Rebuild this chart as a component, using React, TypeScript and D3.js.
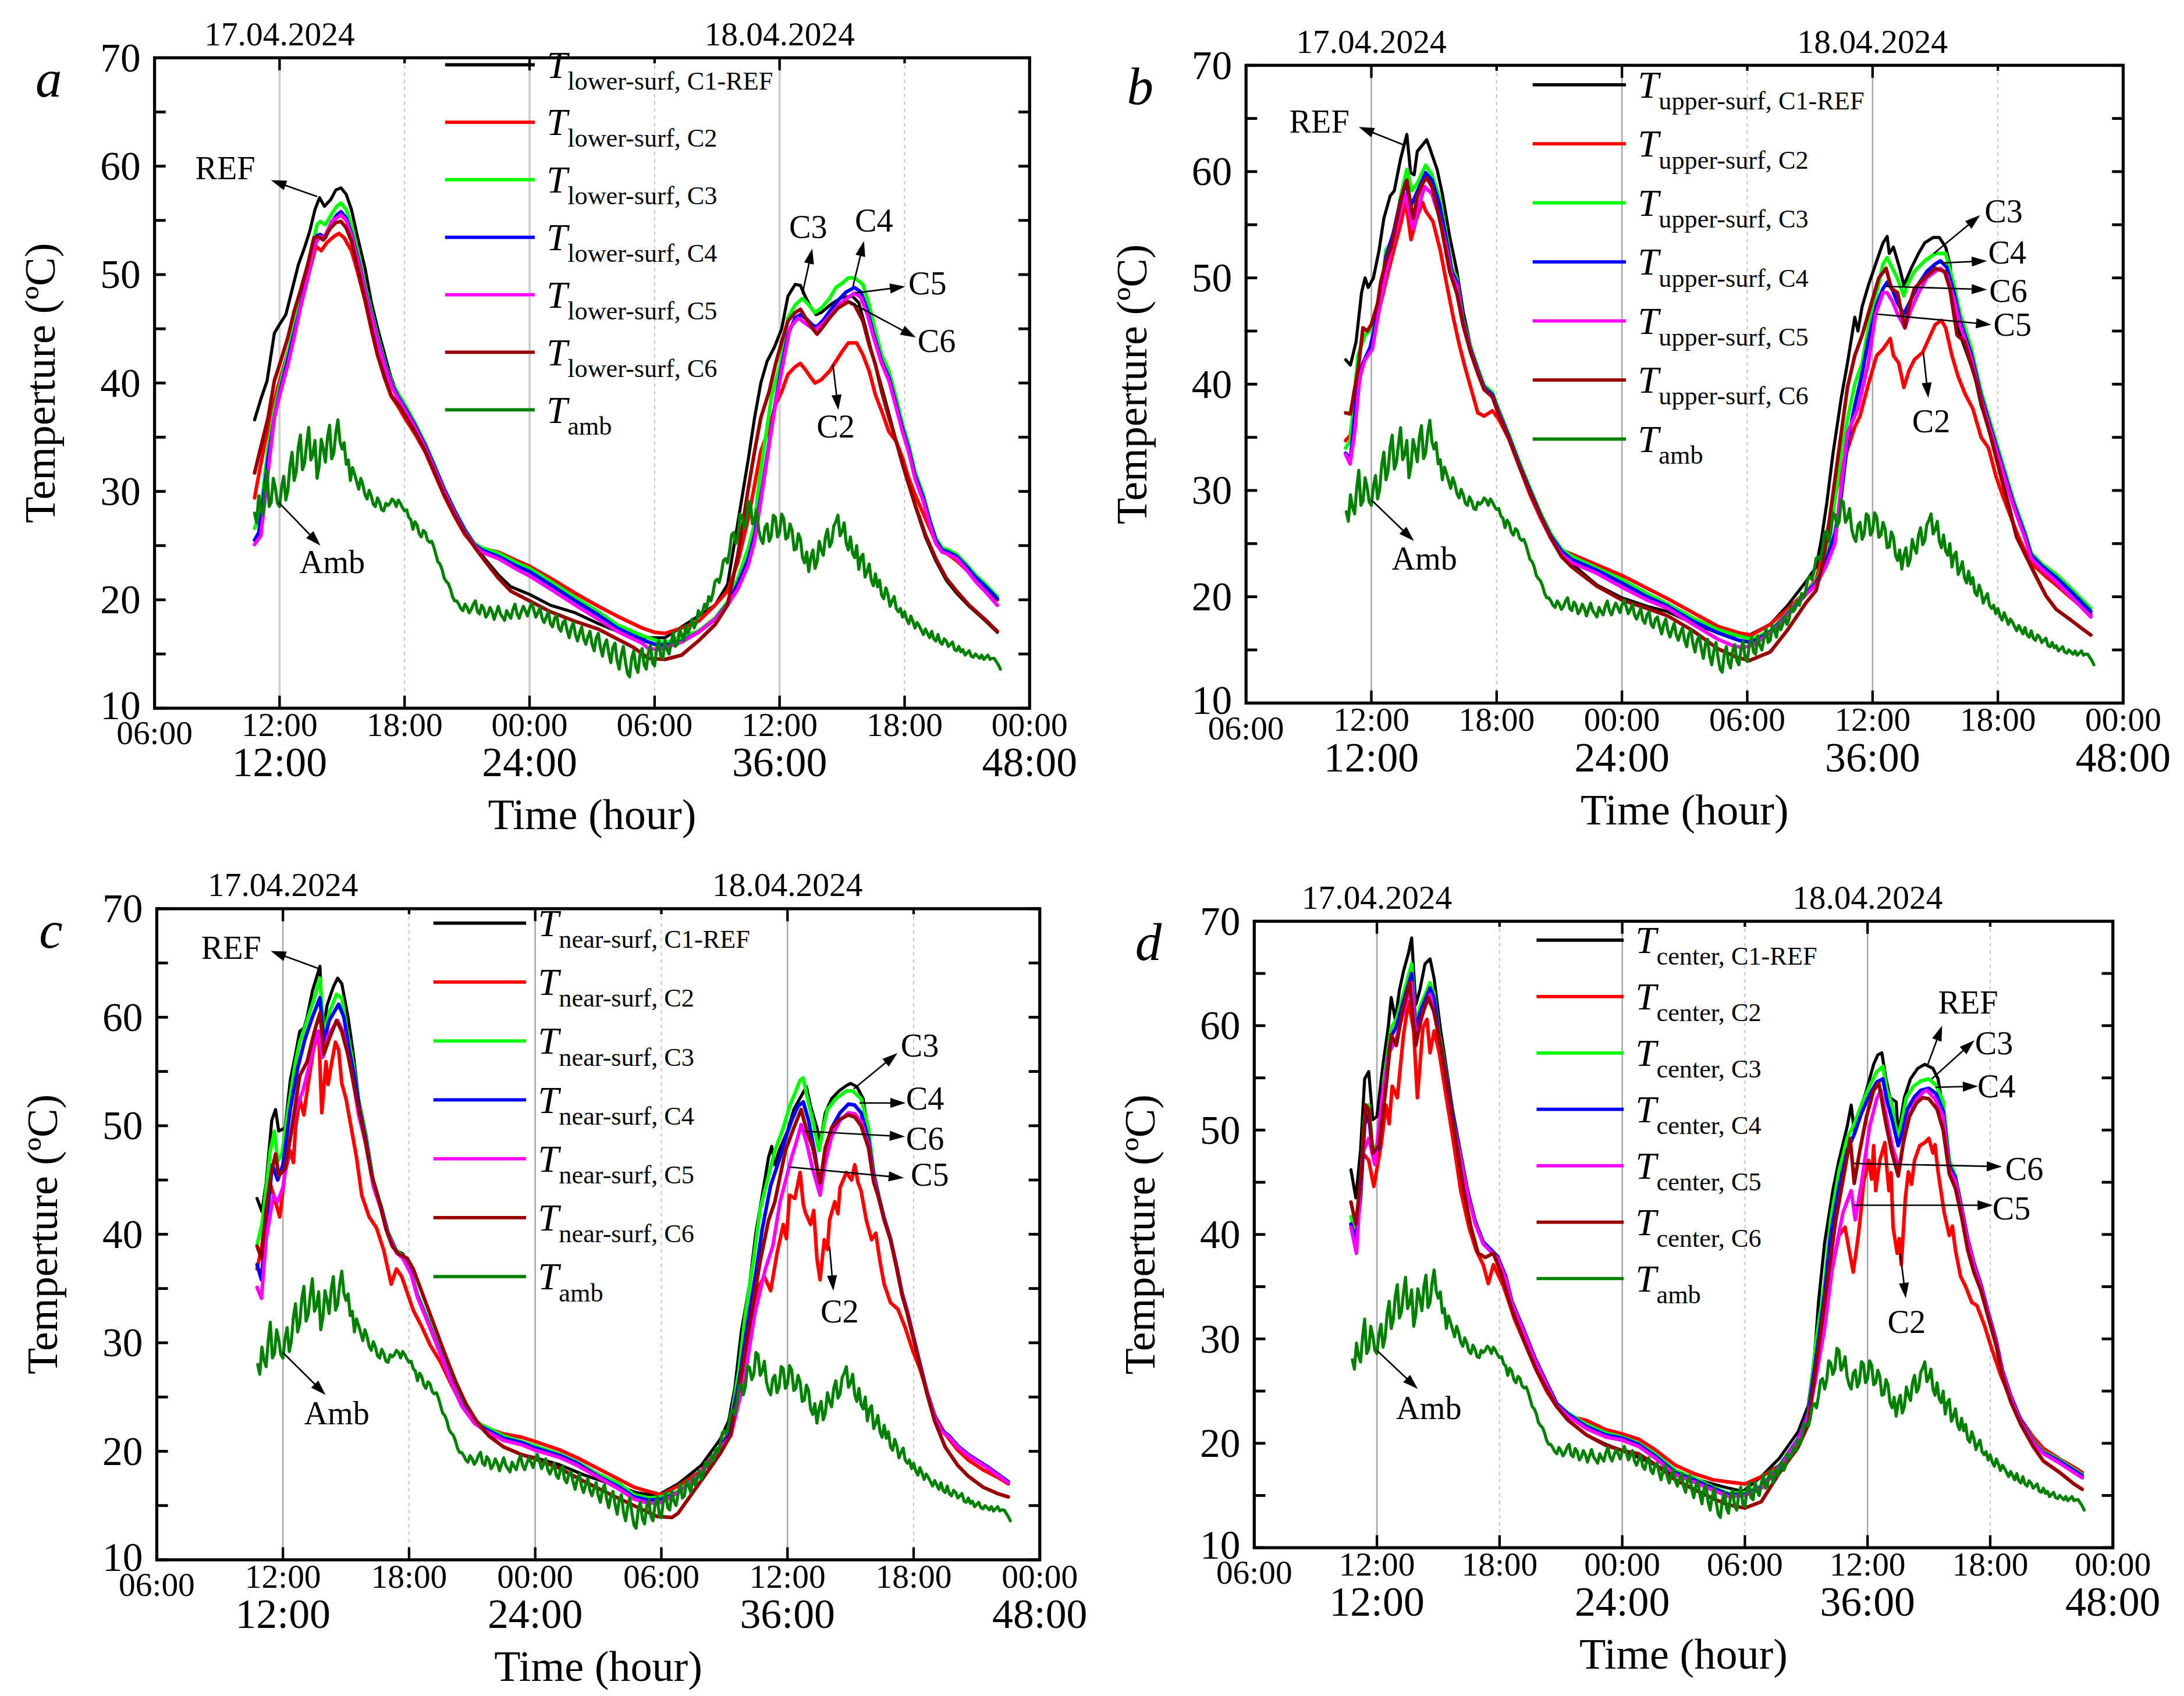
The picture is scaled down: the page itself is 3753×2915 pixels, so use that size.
import React from 'react';
import * as d3 from 'd3';

type Pt = [number, number];

// ---------- axis / tick data ----------
const CLOCK_HOURS = [6, 12, 18, 24, 30, 36, 42, 48];
const CLOCK_LABELS = ['06:00', '12:00', '18:00', '00:00', '06:00', '12:00', '18:00', '00:00'];
const ELAPSED_HOURS = [12, 24, 36, 48];
const ELAPSED_LABELS = ['12:00', '24:00', '36:00', '48:00'];
const Y_TICKS = [10, 20, 30, 40, 50, 60, 70];
const Y_SMALL_TICKS = [15, 25, 35, 45, 55, 65];
const DATE_HOURS = [12, 36];
const DATE_LABELS = ['17.04.2024', '18.04.2024'];
const GRID_SOLID = [12, 24, 36];
const GRID_DASHED = [18, 30, 42];
const SERIES_KEYS = ['C1-REF', 'C2', 'C3', 'C4', 'C5', 'C6'];
const SERIES_COLORS = ['#000000', '#ff0000', '#00ff00', '#0000ff', '#ff00ff', '#990000'];
const AMB_COLOR = '#008000';

// ---------- ambient temperature (shared by all panels), sampled every 0.1 h from 10.8 h ----------
const AMB_START = 10.8;
const AMB_STEP = 0.1;
const AMB_VALUES = [
  28.0, 27.1, 29.6, 28.4, 27.8, 30.2, 31.9, 28.6, 29.0, 31.2,
  30.3, 28.9, 28.6, 30.4, 31.4, 29.2, 30.1, 32.4, 33.6, 31.0,
  31.8, 34.1, 35.2, 32.0, 32.6, 34.4, 35.9, 32.9, 33.4, 34.7,
  31.2, 32.3, 34.8, 33.9, 32.7, 35.0, 36.1, 33.0, 33.5, 35.4,
  36.6, 34.6, 33.9, 34.5, 32.5, 32.9, 31.0, 32.2, 31.6, 30.9,
  30.2, 31.2, 30.6, 29.7, 29.3, 30.1, 29.6, 28.8, 28.6, 29.4,
  29.0, 28.3, 28.2, 28.9, 28.7, 28.9, 29.3, 29.1, 28.6, 29.2,
  28.9, 28.5, 28.2, 28.3, 27.6, 27.4, 26.5, 27.2, 26.9, 26.1,
  25.8, 26.4, 26.2, 25.5, 25.3, 25.4, 24.9, 24.2, 23.5, 23.3,
  22.8, 22.0, 21.7, 21.5, 21.0, 20.3, 19.9, 19.9, 19.6, 19.2,
  19.0, 19.6, 19.3, 18.8, 19.1, 19.6, 19.9, 18.9, 18.7, 19.5,
  19.2, 18.4, 18.7, 19.3, 18.9, 18.2, 18.8, 19.4, 18.7, 18.4,
  18.1, 19.0, 18.6, 18.3, 19.1, 19.6, 18.7, 18.3, 18.9, 19.4,
  19.0, 18.5, 19.2, 19.7, 19.1, 18.4, 18.8, 19.3, 18.3, 17.9,
  18.4, 18.9, 17.8, 17.5, 18.3, 18.6, 17.4, 17.1, 17.9, 18.1,
  17.2, 16.5, 17.4, 17.9, 16.8, 16.2, 16.9, 17.5, 16.4, 15.9,
  16.6, 17.1, 15.9, 15.3, 16.5, 16.9, 15.6, 14.8, 15.9, 16.3,
  15.1, 14.2, 15.6, 16.0, 14.4, 13.6, 14.9, 15.7, 14.3, 13.2,
  12.9, 14.6, 15.3, 13.8, 13.3, 14.9, 15.5, 14.0, 13.6, 15.1,
  15.8, 14.2, 13.9, 15.5, 16.2, 14.8, 14.6, 16.3, 15.4, 15.0,
  16.1, 17.0, 15.7, 15.9, 17.3, 16.8, 16.2, 17.6, 16.9, 17.4,
  18.2, 17.4, 17.9, 19.0, 18.6, 18.9, 19.6, 19.2, 20.3, 19.9,
  20.6, 21.7, 21.9, 21.6, 22.4, 23.6, 23.8, 23.4, 24.5, 26.0,
  26.2, 25.2, 26.0, 27.9, 27.7, 26.6, 27.1, 29.1, 28.9, 27.0,
  27.4, 28.3, 26.4, 25.6, 25.2, 26.7, 27.0, 25.4, 25.9, 27.8,
  27.6, 25.8, 26.2, 27.9, 27.5, 25.6, 25.8, 27.0, 26.4, 24.6,
  24.7, 26.1, 25.6, 23.9, 23.4, 24.4, 22.6, 23.9, 24.6, 22.9,
  23.5, 25.4, 24.6, 24.1, 25.8, 26.5, 24.9, 25.3, 26.8, 27.2,
  27.8, 25.9, 26.3, 27.1, 25.2, 24.6, 25.8, 24.3, 23.9, 25.0,
  22.8, 23.9, 24.2, 22.1, 22.6, 23.3, 21.8, 21.3, 22.4, 21.2,
  21.8, 20.4, 20.1, 21.1, 20.5, 19.4, 19.9, 20.3, 19.2, 18.9,
  19.2, 18.4, 18.9, 18.2, 17.8, 18.5, 18.0, 17.4, 17.9, 17.6,
  17.2, 16.8, 17.3, 16.9, 16.5, 17.1, 16.4, 16.2, 16.8, 16.1,
  15.9, 16.4, 16.2, 15.7, 15.9, 16.1, 15.4, 15.3, 15.7, 15.2,
  15.4, 14.9, 15.1, 15.3, 14.8, 14.7, 15.0, 14.8, 14.6, 14.9,
  14.5, 14.7, 14.9, 14.5, 14.6, 14.6, 14.3, 14.0, 13.6,
];

// ---------- panel a : lower surface ----------
const A_C1: Pt[] = [[10.8,36.6],[11.1,38.5],[11.4,40.2],[11.75,44.6],[12.0,45.4],[12.3,46.3],[12.55,48.2],[12.9,50.9],[13.2,52.5],[13.45,54.0],[13.7,56.0],[13.92,57.1],[14.15,56.3],[14.45,56.9],[14.7,57.8],[14.95,58.0],[15.2,57.4],[15.45,56.0],[15.75,53.4],[16.1,50.6],[16.4,47.5],[16.7,45.1],[17.05,42.6],[17.35,40.5],[17.7,38.8],[18.0,37.5],[18.5,35.8],[19.0,34.0],[19.45,31.8],[19.9,29.8],[20.4,28.0],[20.9,26.3],[21.35,25.1],[21.85,23.8],[22.5,22.3],[23.1,21.2],[24.0,20.5],[25.0,19.5],[26.2,18.8],[27.3,17.8],[28.2,17.1],[29.4,16.5],[30.5,16.5],[31.3,17.5],[32.1,18.5],[32.9,19.5],[33.5,21.4],[33.9,26.0],[34.2,29.5],[34.5,33.0],[34.8,36.8],[35.1,40.0],[35.4,42.0],[35.75,43.3],[36.1,45.0],[36.4,48.0],[36.75,49.1],[37.0,49.0],[37.25,47.9],[37.5,47.0],[37.75,46.3],[38.0,46.5],[38.5,47.3],[39.0,47.9],[39.5,48.0],[39.8,47.4],[40.1,45.3],[40.4,43.0],[40.8,40.3],[41.2,37.5],[41.6,34.6],[42.0,32.0],[42.5,28.7],[43.0,25.8],[43.5,23.6],[44.0,21.8],[44.5,20.6],[45.1,19.4],[45.8,18.2],[46.45,17.0]];
const A_C2: Pt[] = [[10.8,29.4],[11.0,31.5],[11.3,34.5],[11.6,37.0],[11.9,39.5],[12.2,41.5],[12.5,43.5],[12.85,46.0],[13.2,48.5],[13.5,50.8],[13.75,52.6],[14.0,52.2],[14.25,52.9],[14.6,53.5],[14.85,53.8],[15.1,53.4],[15.45,52.2],[15.75,50.2],[16.1,47.6],[16.4,45.0],[16.7,42.6],[17.05,40.4],[17.35,38.8],[17.7,37.8],[18.0,36.8],[18.5,35.3],[19.0,33.6],[19.45,31.6],[19.9,29.6],[20.4,27.7],[20.9,26.0],[21.35,25.0],[21.8,24.7],[22.5,24.4],[23.4,23.6],[24.0,23.1],[25.0,22.0],[26.2,20.6],[27.3,19.4],[28.2,18.5],[29.4,17.4],[30.0,17.0],[30.5,16.9],[31.3,17.4],[32.1,18.0],[32.9,19.5],[33.5,20.8],[34.0,23.5],[34.5,27.5],[34.8,30.6],[35.1,33.7],[35.5,35.8],[35.8,38.0],[36.1,39.2],[36.4,40.8],[36.75,41.5],[37.0,41.8],[37.25,41.2],[37.5,40.5],[37.7,40.0],[38.0,40.3],[38.4,41.1],[38.7,42.0],[39.0,42.9],[39.3,43.7],[39.7,43.7],[40.0,42.6],[40.3,41.1],[40.6,38.9],[40.9,37.4],[41.25,35.5],[41.6,34.6],[41.9,33.1],[42.2,31.2],[42.5,29.7],[43.0,27.5],[43.5,25.3],[44.0,24.3],[44.5,23.6],[45.0,22.7],[45.5,21.8],[46.0,20.9],[46.45,20.0]];
const A_C3: Pt[] = [[10.8,26.6],[11.0,27.5],[11.2,30.0],[11.45,34.0],[11.75,37.5],[12.05,40.0],[12.35,42.3],[12.65,44.8],[12.95,47.3],[13.25,49.8],[13.55,52.5],[13.8,54.6],[13.95,54.9],[14.2,54.6],[14.5,55.6],[14.75,56.3],[14.95,56.6],[15.2,56.0],[15.45,54.6],[15.8,51.8],[16.1,49.0],[16.45,46.3],[16.75,44.0],[17.1,41.6],[17.4,40.0],[17.7,39.0],[18.05,37.9],[18.5,36.3],[19.0,34.4],[19.45,32.4],[19.9,30.3],[20.4,28.3],[20.9,26.5],[21.35,25.2],[21.7,24.8],[22.5,24.3],[23.4,23.4],[24.0,22.9],[25.0,21.7],[26.2,20.2],[27.3,18.9],[28.2,17.7],[29.4,16.7],[30.0,16.3],[30.5,16.0],[31.3,16.6],[32.1,17.1],[32.9,18.3],[33.5,19.8],[34.0,22.0],[34.5,24.8],[34.8,27.0],[35.0,30.6],[35.3,34.6],[35.6,38.6],[36.1,42.3],[36.4,46.0],[36.75,47.2],[37.1,47.8],[37.4,47.2],[37.7,46.5],[38.0,46.9],[38.4,47.8],[38.7,48.8],[39.0,49.2],[39.3,49.7],[39.6,49.7],[40.0,49.1],[40.3,47.2],[40.6,44.8],[40.9,42.6],[41.25,41.1],[41.6,38.6],[41.9,36.2],[42.2,34.3],[42.5,31.8],[42.9,29.7],[43.2,27.5],[43.5,25.7],[43.8,24.8],[44.1,24.6],[44.5,24.2],[45.0,23.2],[45.4,22.3],[45.9,21.4],[46.45,20.3]];
const A_C4: Pt[] = [[10.8,25.5],[11.0,26.2],[11.2,29.0],[11.45,33.0],[11.75,36.8],[12.05,39.5],[12.35,41.8],[12.65,44.2],[12.95,46.6],[13.25,49.2],[13.55,51.8],[13.8,53.6],[13.95,53.7],[14.2,53.4],[14.5,54.8],[14.75,55.5],[14.95,55.8],[15.2,55.2],[15.45,53.8],[15.8,51.2],[16.1,48.6],[16.45,46.0],[16.75,43.7],[17.1,41.4],[17.4,39.8],[17.7,38.7],[18.05,37.6],[18.5,36.1],[19.0,34.2],[19.45,32.2],[19.9,30.2],[20.4,28.2],[20.9,26.4],[21.35,25.1],[21.7,24.6],[22.5,24.0],[23.4,23.1],[24.0,22.6],[25.0,21.4],[26.2,19.9],[27.3,18.6],[28.2,17.4],[29.4,16.3],[30.0,15.9],[30.5,15.8],[31.3,16.2],[32.1,17.0],[32.9,18.2],[33.5,19.6],[34.0,21.5],[34.5,23.8],[34.8,26.0],[35.1,29.5],[35.5,34.5],[35.8,38.2],[36.1,41.5],[36.4,44.5],[36.75,46.0],[37.0,46.3],[37.3,45.9],[37.6,45.3],[37.8,45.2],[38.1,45.8],[38.4,46.6],[38.8,47.6],[39.2,48.4],[39.6,48.8],[39.9,48.4],[40.2,46.8],[40.5,44.6],[40.9,42.0],[41.25,40.5],[41.6,38.0],[41.9,35.8],[42.2,33.9],[42.5,31.5],[42.9,29.4],[43.2,27.3],[43.5,25.5],[43.8,24.6],[44.1,24.4],[44.5,24.0],[45.0,23.0],[45.4,22.1],[45.9,21.2],[46.45,20.1]];
const A_C5: Pt[] = [[10.8,25.1],[11.1,25.9],[11.45,31.8],[11.75,36.8],[12.05,39.2],[12.4,41.7],[12.7,44.2],[13.0,46.9],[13.35,49.7],[13.65,52.5],[13.9,53.5],[14.15,53.4],[14.5,54.9],[14.95,55.5],[15.2,55.0],[15.45,53.6],[15.8,51.0],[16.1,48.4],[16.45,45.8],[16.75,43.5],[17.1,41.2],[17.4,39.6],[17.7,38.5],[18.05,37.4],[18.5,35.9],[19.0,34.0],[19.45,32.0],[19.9,30.0],[20.4,28.0],[20.9,26.2],[21.35,25.0],[21.7,24.4],[22.5,23.8],[23.4,22.8],[24.0,22.2],[25.0,21.0],[26.2,19.5],[27.3,18.2],[28.2,17.1],[29.4,16.0],[29.7,15.5],[30.2,15.4],[30.7,15.7],[31.3,16.1],[32.1,17.0],[32.9,18.2],[33.5,19.5],[34.0,21.0],[34.5,23.2],[34.8,25.4],[35.1,29.1],[35.5,34.3],[35.8,38.0],[36.1,41.1],[36.5,45.1],[36.9,46.0],[37.3,45.4],[37.7,44.9],[38.1,45.5],[38.5,46.4],[38.9,47.3],[39.3,47.9],[39.6,48.3],[39.9,47.9],[40.2,46.4],[40.5,44.3],[40.9,41.8],[41.25,40.2],[41.6,37.7],[41.9,35.5],[42.2,33.6],[42.5,31.2],[42.9,29.1],[43.2,27.0],[43.5,25.2],[43.8,24.4],[44.1,24.2],[44.5,23.8],[45.0,22.7],[45.4,21.7],[45.9,20.7],[46.45,19.5]];
const A_C6: Pt[] = [[10.8,31.7],[11.05,33.7],[11.45,36.8],[11.75,40.2],[12.05,42.0],[12.4,44.2],[12.7,46.6],[13.0,48.5],[13.35,50.9],[13.65,53.4],[13.85,53.5],[14.1,53.2],[14.45,54.3],[14.7,54.8],[14.95,54.9],[15.2,54.3],[15.45,53.1],[15.75,50.6],[16.1,47.8],[16.4,45.1],[16.7,42.6],[17.05,40.5],[17.35,38.9],[17.7,38.0],[18.0,37.1],[18.5,35.5],[19.0,33.7],[19.45,31.7],[19.9,29.7],[20.4,27.8],[20.9,26.1],[21.35,24.9],[21.85,23.6],[22.5,22.0],[23.1,20.8],[24.0,19.9],[25.0,18.9],[26.2,18.0],[27.3,17.3],[28.2,16.4],[29.0,15.6],[29.7,14.6],[30.5,14.5],[31.3,14.9],[32.1,16.2],[32.9,17.7],[33.5,19.5],[34.0,24.2],[34.5,30.3],[34.8,33.7],[35.1,36.8],[35.5,39.2],[35.8,41.7],[36.1,43.8],[36.4,45.7],[36.75,46.5],[37.0,46.8],[37.25,46.0],[37.55,45.1],[37.8,44.5],[38.05,45.1],[38.4,46.0],[38.8,46.9],[39.3,47.5],[39.6,47.2],[40.0,45.7],[40.3,43.5],[40.6,41.7],[40.9,39.2],[41.25,36.8],[41.6,34.6],[41.9,32.5],[42.2,30.6],[42.5,28.8],[43.0,26.0],[43.5,23.8],[44.0,22.0],[44.5,20.8],[45.1,19.5],[45.8,18.3],[46.45,17.1]];

// ---------- panel b : upper surface ----------
const B_C1: Pt[] = [[10.77,42.3],[11.0,41.8],[11.27,44.0],[11.53,48.6],[11.7,50.0],[11.85,49.1],[12.1,50.0],[12.37,52.6],[12.6,55.6],[12.9,57.7],[13.1,58.2],[13.4,61.2],[13.7,63.5],[13.88,59.9],[14.05,59.7],[14.2,61.9],[14.45,62.5],[14.65,63.0],[14.8,62.2],[15.15,60.2],[15.4,57.9],[15.75,53.9],[16.1,50.6],[16.4,46.8],[16.75,43.6],[17.1,41.5],[17.4,39.9],[17.8,39.1],[18.1,37.5],[18.6,35.2],[19.1,32.6],[19.6,30.2],[20.1,27.9],[20.6,25.8],[21.1,24.2],[21.6,23.1],[22.8,21.1],[24.0,19.9],[25.2,19.1],[26.2,18.6],[27.4,17.5],[28.6,16.6],[29.6,16.3],[30.0,16.3],[31.1,17.4],[31.9,19.1],[32.8,21.4],[33.3,22.8],[33.55,25.4],[33.8,28.7],[34.1,33.4],[34.5,38.7],[34.8,42.0],[35.15,46.3],[35.3,45.0],[35.5,47.3],[35.8,49.3],[36.2,51.6],[36.5,53.3],[36.7,53.9],[36.8,52.3],[37.0,52.9],[37.3,50.9],[37.5,49.3],[37.85,50.9],[38.2,52.3],[38.5,53.3],[38.9,53.8],[39.2,53.8],[39.5,52.9],[39.7,51.3],[39.9,48.0],[40.2,44.6],[40.55,42.7],[40.9,40.7],[41.2,38.0],[41.6,35.7],[41.9,33.4],[42.25,30.7],[42.6,28.1],[42.9,25.7],[43.3,24.1],[43.8,22.1],[44.3,20.1],[44.8,18.8],[45.5,17.8],[46.1,16.9],[46.45,16.4]];
const B_C2: Pt[] = [[10.77,34.7],[11.0,35.2],[11.3,40.0],[11.6,42.0],[11.9,43.0],[12.2,45.5],[12.5,48.0],[12.8,50.5],[13.1,52.8],[13.4,55.0],[13.65,57.2],[13.9,53.6],[14.15,55.5],[14.45,57.1],[14.6,56.3],[14.95,55.3],[15.3,52.6],[15.6,49.5],[15.9,46.5],[16.2,43.8],[16.5,41.5],[16.8,39.4],[17.1,37.3],[17.4,37.0],[17.8,37.5],[18.1,36.7],[18.6,34.8],[19.1,32.2],[19.6,29.6],[20.1,27.4],[20.6,25.5],[21.1,24.4],[21.6,24.0],[22.8,23.0],[24.0,22.0],[25.2,20.8],[26.2,19.8],[27.4,18.5],[28.6,17.2],[29.6,16.6],[30.2,16.4],[31.1,17.4],[31.9,18.8],[32.8,20.4],[33.3,21.6],[33.6,24.0],[34.0,27.7],[34.5,32.0],[35.15,36.0],[35.4,37.0],[35.8,40.0],[36.2,42.7],[36.5,43.3],[36.85,44.3],[37.0,42.7],[37.25,42.0],[37.5,39.7],[37.75,41.3],[38.0,42.3],[38.4,43.0],[38.7,44.3],[39.0,45.6],[39.3,46.0],[39.5,45.3],[39.8,42.7],[40.1,40.7],[40.45,39.0],[40.8,37.7],[41.2,35.0],[41.55,34.0],[41.9,31.4],[42.25,29.4],[42.6,27.6],[43.0,25.6],[43.4,23.9],[43.8,22.8],[44.3,21.9],[44.8,21.1],[45.5,19.9],[46.1,18.9],[46.45,18.3]];
const B_C3: Pt[] = [[10.77,34.0],[11.0,34.7],[11.36,42.7],[11.7,44.6],[12.05,45.3],[12.4,47.3],[12.7,52.6],[13.05,53.6],[13.4,57.6],[13.7,60.2],[13.95,58.2],[14.2,58.9],[14.6,60.6],[14.9,59.7],[15.25,57.6],[15.55,54.5],[15.85,51.0],[16.1,49.9],[16.4,46.0],[16.75,43.5],[17.1,41.5],[17.4,39.9],[17.8,39.2],[18.1,37.6],[18.6,35.2],[19.1,32.6],[19.6,30.2],[20.1,27.9],[20.6,25.9],[21.1,24.5],[21.6,23.8],[22.8,22.7],[24.0,21.6],[25.2,20.3],[26.2,19.3],[27.4,18.0],[28.6,16.9],[29.6,16.3],[30.2,16.0],[31.1,16.8],[31.9,18.4],[32.8,20.4],[33.3,21.4],[33.8,24.0],[34.1,27.7],[34.5,33.4],[34.8,36.7],[35.15,40.0],[35.5,42.0],[35.8,45.3],[36.2,48.6],[36.5,51.3],[36.7,51.9],[36.95,50.9],[37.2,49.9],[37.5,48.3],[37.65,49.3],[38.0,50.6],[38.5,51.6],[39.0,52.3],[39.5,52.3],[39.9,49.3],[40.2,46.6],[40.7,43.6],[41.2,39.3],[41.7,36.0],[42.25,32.4],[42.75,29.1],[43.3,26.1],[43.6,24.1],[44.1,23.1],[44.8,22.1],[45.5,20.8],[46.45,18.9]];
const B_C4: Pt[] = [[10.77,33.5],[11.0,33.0],[11.3,39.0],[11.6,42.0],[11.95,43.5],[12.35,47.0],[12.7,52.0],[13.05,54.2],[13.4,57.3],[13.65,59.0],[13.9,56.8],[14.15,57.9],[14.6,59.9],[14.9,59.2],[15.25,57.0],[15.55,54.0],[15.85,50.6],[16.1,49.6],[16.4,45.8],[16.75,43.3],[17.1,41.3],[17.4,39.7],[17.8,39.0],[18.1,37.4],[18.6,35.0],[19.1,32.4],[19.6,30.0],[20.1,27.7],[20.6,25.7],[21.1,24.3],[21.6,23.5],[22.8,22.5],[24.0,21.3],[25.2,20.0],[26.2,19.1],[27.4,17.7],[28.6,16.6],[29.6,15.9],[30.2,15.7],[31.1,16.7],[31.9,18.3],[32.8,20.3],[33.3,21.3],[33.8,23.5],[34.2,26.0],[34.5,29.5],[34.8,34.5],[35.15,38.0],[35.5,41.0],[35.8,44.2],[36.2,47.5],[36.5,49.0],[36.7,49.6],[36.95,48.9],[37.2,47.6],[37.5,46.6],[37.8,47.8],[38.2,49.4],[38.6,50.6],[39.0,51.3],[39.25,51.6],[39.55,51.0],[39.9,48.6],[40.2,45.9],[40.7,43.0],[41.2,38.9],[41.7,35.6],[42.25,32.0],[42.75,28.8],[43.3,25.8],[43.6,23.9],[44.1,22.9],[44.8,21.8],[45.5,20.5],[46.45,18.6]];
const B_C5: Pt[] = [[10.77,33.4],[10.98,32.5],[11.2,35.4],[11.45,40.7],[11.7,42.3],[12.05,43.3],[12.4,47.3],[12.9,52.3],[13.2,54.6],[13.6,57.9],[13.85,55.9],[14.0,54.6],[14.3,56.9],[14.55,58.6],[14.9,57.9],[15.25,55.8],[15.55,53.3],[15.85,50.2],[16.1,49.3],[16.4,45.6],[16.75,43.1],[17.1,41.1],[17.4,39.5],[17.8,38.8],[18.1,37.2],[18.6,34.8],[19.1,32.2],[19.6,29.8],[20.1,27.5],[20.6,25.5],[21.1,24.0],[21.6,23.2],[22.8,22.2],[24.0,20.9],[25.2,19.7],[26.2,18.9],[27.4,17.4],[28.6,16.0],[29.3,15.4],[29.8,15.2],[30.3,15.5],[31.1,16.6],[31.9,18.2],[32.8,20.2],[33.3,21.1],[33.8,23.0],[34.2,25.0],[34.4,28.7],[34.8,35.4],[35.3,37.7],[35.8,42.0],[36.15,46.6],[36.5,48.6],[36.7,48.6],[36.95,47.8],[37.2,46.6],[37.55,45.3],[37.8,46.8],[38.2,48.6],[38.6,50.0],[39.0,50.6],[39.25,50.9],[39.55,50.3],[39.9,48.0],[40.2,45.5],[40.7,42.6],[41.2,38.6],[41.7,35.3],[42.25,31.7],[42.75,28.5],[43.3,25.5],[43.6,23.6],[44.1,22.6],[44.8,21.4],[45.5,20.0],[46.45,18.1]];
const B_C6: Pt[] = [[10.77,37.3],[11.0,37.2],[11.15,39.0],[11.36,41.3],[11.6,45.3],[11.8,45.0],[12.0,45.6],[12.3,47.6],[12.45,49.6],[12.7,51.6],[12.95,52.9],[13.2,55.3],[13.45,57.6],[13.7,59.2],[13.88,56.9],[14.0,55.6],[14.2,57.6],[14.45,58.9],[14.65,59.4],[14.9,58.6],[15.15,56.6],[15.4,54.3],[15.75,50.6],[16.1,48.5],[16.4,45.5],[16.75,43.0],[17.1,41.0],[17.4,39.5],[17.8,38.8],[18.1,37.1],[18.6,34.8],[19.1,32.2],[19.6,29.8],[20.1,27.6],[20.6,25.5],[21.1,23.8],[21.6,22.8],[22.8,21.0],[24.0,19.7],[25.2,18.9],[26.2,18.2],[27.4,16.8],[28.6,15.1],[29.5,14.3],[30.1,14.0],[31.1,14.8],[31.9,16.8],[32.8,19.4],[33.3,20.6],[33.6,23.0],[33.9,26.7],[34.5,35.4],[34.8,39.7],[35.15,42.7],[35.5,44.6],[36.0,48.0],[36.3,50.0],[36.65,50.9],[36.9,49.0],[37.2,48.6],[37.4,46.6],[37.55,45.3],[37.75,47.3],[38.0,49.0],[38.5,50.0],[39.0,50.9],[39.45,50.6],[39.7,49.0],[40.05,44.6],[40.4,44.0],[40.7,42.0],[41.0,40.0],[41.3,37.5],[41.6,35.5],[41.9,33.2],[42.25,30.5],[42.6,27.9],[42.9,25.6],[43.3,24.0],[43.8,22.0],[44.3,20.1],[44.8,18.8],[45.5,17.8],[46.1,16.9],[46.45,16.4]];

// ---------- panel c : near surface ----------
const C_C1: Pt[] = [[10.77,43.3],[11.0,42.1],[11.2,44.7],[11.47,50.5],[11.65,51.5],[11.8,49.5],[12.1,49.8],[12.35,54.2],[12.6,56.6],[12.8,58.7],[13.0,59.0],[13.15,60.0],[13.4,62.4],[13.76,64.7],[13.9,58.7],[14.1,61.1],[14.4,62.8],[14.6,63.6],[14.8,63.1],[15.1,60.0],[15.35,56.6],[15.6,52.5],[15.96,49.1],[16.3,45.0],[16.67,42.6],[17.0,39.9],[17.4,38.5],[17.7,38.2],[18.1,36.5],[18.4,34.4],[18.95,31.7],[19.5,29.0],[20.0,26.6],[20.5,24.5],[21.1,23.1],[21.6,21.8],[22.5,20.4],[23.35,19.7],[24.0,19.4],[25.1,18.8],[26.35,17.8],[27.6,17.0],[28.8,16.2],[29.8,15.9],[30.8,17.0],[31.9,18.7],[32.8,21.1],[33.2,22.8],[33.5,25.9],[33.8,31.0],[34.2,35.4],[34.5,40.2],[34.8,43.6],[35.1,47.1],[35.25,48.1],[35.4,46.4],[35.6,47.7],[36.0,49.5],[36.3,51.5],[36.7,52.9],[36.9,53.6],[37.1,51.8],[37.4,49.8],[37.55,48.4],[37.8,51.2],[38.1,52.5],[38.45,53.2],[38.8,53.7],[39.0,53.9],[39.3,53.6],[39.6,52.5],[39.85,49.1],[40.1,45.0],[40.35,43.3],[40.6,41.3],[40.9,39.5],[41.2,36.8],[41.45,34.4],[41.7,32.7],[42.0,30.3],[42.3,27.9],[42.65,25.2],[43.0,22.8],[43.5,20.4],[44.1,18.7],[44.6,17.7],[45.3,16.7],[46.0,16.1],[46.5,15.8]];
const C_C2: Pt[] = [[10.77,36.8],[11.0,38.9],[11.35,45.0],[11.6,43.3],[11.85,41.6],[12.1,45.7],[12.35,47.7],[12.5,46.6],[12.6,49.8],[12.8,52.5],[13.0,51.0],[13.1,52.5],[13.25,54.5],[13.45,57.0],[13.7,58.7],[13.85,51.2],[14.05,55.9],[14.15,53.8],[14.3,55.6],[14.5,57.7],[14.65,57.0],[14.8,53.9],[15.0,52.5],[15.25,49.8],[15.5,47.1],[15.75,43.6],[16.1,41.6],[16.45,40.6],[16.8,38.5],[17.15,35.4],[17.4,36.8],[17.65,36.1],[18.2,33.0],[18.6,31.5],[19.0,29.8],[19.5,28.2],[20.0,26.2],[20.5,24.3],[21.1,22.9],[21.6,22.2],[22.5,21.6],[23.35,21.3],[24.0,20.9],[25.2,20.1],[26.0,19.4],[27.0,18.4],[28.0,17.4],[28.7,16.7],[29.4,16.3],[30.0,16.0],[30.8,16.8],[31.9,18.2],[32.8,20.4],[33.2,21.8],[33.7,25.0],[34.1,31.0],[34.6,35.1],[34.9,36.1],[35.2,34.8],[35.5,38.2],[35.8,40.9],[35.95,39.6],[36.1,43.6],[36.35,43.3],[36.6,45.7],[36.75,42.8],[36.85,42.0],[37.1,40.9],[37.25,42.2],[37.4,37.8],[37.55,35.8],[37.75,39.5],[37.9,38.6],[38.0,41.3],[38.25,43.0],[38.4,41.9],[38.5,44.3],[38.8,45.7],[39.05,45.0],[39.2,46.4],[39.35,44.8],[39.5,44.0],[39.75,41.3],[40.0,39.5],[40.2,40.1],[40.4,37.5],[40.6,35.4],[40.9,33.7],[41.25,33.1],[41.6,31.4],[41.95,29.3],[42.3,27.6],[42.65,25.4],[43.0,23.3],[43.5,21.6],[44.1,20.1],[44.6,19.2],[45.3,18.3],[46.0,17.6],[46.5,17.0]];
const C_C3: Pt[] = [[10.77,39.0],[11.0,40.9],[11.25,45.0],[11.4,47.7],[11.6,49.5],[11.75,46.7],[11.95,47.4],[12.25,51.5],[12.6,55.9],[12.8,57.7],[13.15,59.7],[13.5,61.8],[13.76,63.6],[13.95,58.3],[14.2,60.4],[14.55,62.1],[14.8,61.8],[15.05,58.7],[15.35,55.6],[15.6,52.3],[15.96,48.8],[16.3,44.8],[16.67,42.6],[17.0,40.2],[17.4,38.5],[17.7,38.0],[18.1,36.5],[18.4,34.5],[18.95,31.9],[19.5,29.1],[20.0,26.6],[20.5,24.4],[21.1,22.8],[21.6,22.3],[22.5,21.4],[23.35,20.9],[24.0,20.5],[25.2,19.7],[26.0,19.0],[27.0,17.9],[28.0,17.0],[28.7,16.0],[29.4,15.7],[30.0,15.8],[30.8,16.3],[31.9,18.0],[32.8,20.4],[33.2,21.6],[33.7,27.6],[34.0,32.7],[34.4,37.8],[34.7,42.3],[35.1,45.4],[35.4,47.7],[35.8,49.8],[36.1,51.8],[36.4,53.2],[36.6,54.2],[36.75,54.4],[36.95,52.5],[37.2,50.5],[37.5,47.7],[37.7,49.8],[37.9,51.5],[38.3,52.5],[38.8,53.2],[39.1,53.2],[39.5,52.5],[39.85,49.8],[40.1,45.7],[40.35,43.5],[40.6,41.5],[40.9,39.6],[41.2,37.0],[41.45,34.6],[41.7,32.9],[42.0,30.5],[42.3,28.1],[42.65,25.4],[43.0,23.3],[43.3,22.0],[43.7,21.4],[44.1,20.5],[44.6,19.7],[45.5,18.6],[46.5,17.2]];
const C_C4: Pt[] = [[10.77,37.2],[10.98,35.8],[11.2,40.9],[11.5,46.4],[11.75,45.0],[12.0,46.4],[12.35,51.5],[12.7,55.3],[13.05,58.0],[13.4,60.0],[13.76,61.8],[13.95,57.7],[14.2,59.7],[14.65,61.2],[14.9,60.0],[15.15,57.0],[15.4,54.6],[15.65,51.5],[15.96,48.5],[16.3,44.6],[16.67,42.5],[17.0,40.1],[17.4,38.4],[17.7,37.9],[18.1,36.4],[18.4,34.3],[18.95,31.7],[19.5,29.0],[20.0,26.5],[20.5,24.3],[21.1,22.7],[21.6,22.1],[22.5,21.2],[23.35,20.8],[24.0,20.3],[25.2,19.6],[26.0,18.9],[27.0,17.7],[28.0,16.7],[28.7,15.8],[29.4,15.5],[30.0,15.6],[30.8,16.2],[31.9,18.0],[32.8,20.4],[33.2,21.5],[33.7,26.5],[34.1,31.8],[34.5,36.5],[34.8,40.5],[35.2,44.5],[35.6,46.8],[35.9,48.8],[36.2,50.5],[36.5,51.8],[36.75,52.2],[37.0,50.5],[37.3,47.5],[37.55,44.3],[37.8,47.5],[38.1,49.8],[38.5,51.2],[38.9,52.0],[39.2,51.9],[39.5,51.2],[39.85,48.8],[40.1,45.5],[40.35,43.4],[40.6,41.5],[40.9,39.6],[41.2,37.0],[41.45,34.6],[41.7,32.9],[42.0,30.5],[42.3,28.1],[42.65,25.4],[43.0,23.3],[43.3,22.0],[43.7,21.4],[44.1,20.5],[44.6,19.7],[45.5,18.6],[46.5,17.2]];
const C_C5: Pt[] = [[10.77,35.1],[10.98,34.1],[11.2,39.5],[11.55,43.6],[11.75,43.0],[12.0,44.3],[12.25,47.7],[12.6,51.5],[12.95,53.2],[13.3,55.9],[13.65,58.7],[13.9,56.3],[14.15,58.3],[14.6,59.7],[14.85,58.7],[15.1,56.5],[15.35,54.0],[15.6,51.0],[15.96,48.2],[16.3,44.4],[16.67,42.3],[17.0,40.0],[17.4,38.3],[17.7,37.8],[18.1,36.3],[18.4,34.2],[18.95,31.6],[19.5,28.9],[20.0,26.4],[20.5,24.2],[21.1,22.6],[21.6,21.9],[22.5,21.0],[23.35,20.6],[24.0,20.1],[25.2,19.4],[26.0,18.7],[27.0,17.6],[28.0,16.5],[28.7,15.6],[29.4,15.2],[30.0,15.3],[30.8,16.2],[31.9,18.0],[32.8,20.3],[33.3,21.4],[33.95,26.6],[34.45,32.7],[34.95,36.8],[35.3,38.9],[35.65,43.0],[36.2,47.1],[36.5,49.0],[36.65,50.1],[36.9,48.5],[37.2,46.0],[37.55,43.6],[37.8,46.6],[38.1,49.0],[38.5,50.5],[38.9,51.2],[39.2,51.1],[39.5,50.4],[39.85,48.3],[40.1,45.2],[40.35,43.2],[40.6,41.4],[40.9,39.5],[41.2,36.9],[41.45,34.5],[41.7,32.8],[42.0,30.4],[42.3,28.0],[42.65,25.3],[43.0,23.2],[43.3,21.9],[43.7,21.3],[44.1,20.4],[44.6,19.6],[45.5,18.5],[46.5,17.1]];
const C_C6: Pt[] = [[10.77,38.9],[10.98,37.8],[11.2,42.3],[11.45,45.7],[11.65,47.4],[11.8,45.4],[12.1,46.0],[12.45,50.1],[12.8,54.6],[13.15,55.9],[13.5,58.7],[13.76,60.4],[13.95,56.6],[14.2,58.0],[14.55,59.7],[14.8,58.7],[15.1,56.5],[15.45,53.0],[15.8,49.8],[16.2,45.6],[16.5,43.6],[16.9,40.5],[17.2,38.9],[17.5,38.2],[17.9,37.8],[18.2,36.8],[18.7,34.2],[19.2,31.6],[19.7,29.0],[20.2,26.5],[20.7,24.4],[21.2,22.8],[21.8,21.4],[22.5,20.4],[23.35,19.7],[24.0,19.3],[25.1,18.5],[26.35,17.2],[27.6,16.0],[28.8,14.9],[29.8,14.0],[30.5,13.9],[30.8,14.3],[31.9,17.3],[32.8,19.8],[33.3,21.5],[34.0,29.3],[34.7,37.5],[35.1,41.3],[35.4,43.0],[35.9,47.7],[36.3,49.8],[36.65,51.5],[36.95,49.3],[37.2,48.0],[37.55,44.7],[37.8,48.0],[38.1,49.8],[38.5,50.6],[38.9,51.0],[39.2,50.8],[39.5,50.0],[39.85,48.0],[40.1,44.8],[40.35,43.3],[40.6,41.3],[40.9,39.5],[41.2,36.8],[41.45,34.4],[41.7,32.7],[42.0,30.3],[42.3,27.9],[42.65,25.2],[43.0,22.8],[43.5,20.4],[44.1,18.7],[44.6,17.7],[45.3,16.7],[46.0,16.1],[46.5,15.8]];

// ---------- panel d : center ----------
const D_C1: Pt[] = [[10.73,46.2],[10.97,43.5],[11.2,48.1],[11.4,54.9],[11.6,55.6],[11.8,51.0],[12.0,51.3],[12.3,56.3],[12.55,59.8],[12.7,62.7],[12.9,60.6],[13.1,63.4],[13.3,65.2],[13.55,67.0],[13.7,68.4],[13.9,62.0],[14.1,63.4],[14.35,65.9],[14.6,66.4],[14.8,64.5],[15.1,59.8],[15.35,56.6],[15.7,52.0],[16.1,47.8],[16.45,44.2],[16.8,41.4],[17.2,39.2],[17.5,38.5],[17.9,37.8],[18.3,36.0],[18.6,33.5],[19.2,30.7],[19.7,28.2],[20.3,25.7],[20.8,23.6],[21.35,22.2],[22.25,20.8],[23.2,19.9],[24.0,19.3],[25.2,18.3],[26.4,17.2],[27.7,16.5],[29.0,15.8],[29.9,15.4],[30.8,16.8],[31.7,18.6],[32.6,21.1],[33.1,23.6],[33.4,28.2],[33.6,33.5],[33.9,39.2],[34.3,44.2],[34.6,47.1],[35.0,50.3],[35.2,52.4],[35.35,49.9],[35.5,51.3],[35.9,53.5],[36.3,56.3],[36.5,57.2],[36.7,57.4],[36.9,54.9],[37.1,53.1],[37.4,52.7],[37.5,49.5],[37.8,53.1],[38.1,54.9],[38.45,55.9],[38.8,56.3],[39.2,55.9],[39.45,54.9],[39.6,53.1],[39.8,49.5],[40.1,46.0],[40.45,44.2],[40.7,41.7],[41.0,38.5],[41.3,36.4],[41.55,34.6],[41.9,32.1],[42.3,29.3],[42.6,26.4],[43.0,24.0],[43.5,21.8],[44.1,19.7],[44.6,18.3],[45.4,17.2],[46.1,16.1],[46.5,15.6]];
const D_C2: Pt[] = [[10.73,41.0],[10.97,38.5],[11.3,47.8],[11.6,47.1],[11.85,44.6],[12.2,48.5],[12.45,52.4],[12.6,50.6],[12.75,54.2],[13.0,53.1],[13.3,59.1],[13.55,62.3],[13.8,59.5],[13.98,53.1],[14.25,59.8],[14.45,60.6],[14.6,57.4],[14.8,59.5],[15.05,57.4],[15.4,53.1],[15.75,48.8],[16.1,44.2],[16.5,40.7],[16.85,38.5],[17.2,37.1],[17.45,35.3],[17.7,37.1],[18.2,35.0],[18.75,31.8],[19.3,29.3],[19.8,27.0],[20.3,25.0],[20.8,23.5],[21.35,22.6],[22.25,22.2],[23.2,21.3],[24.0,20.9],[24.8,20.4],[25.6,19.4],[26.6,17.9],[27.5,17.1],[28.45,16.5],[29.2,16.3],[30.0,16.1],[30.8,16.8],[31.7,17.9],[32.6,20.4],[33.1,22.9],[33.5,27.0],[33.9,33.5],[34.2,36.0],[34.6,39.9],[34.9,40.7],[35.1,38.5],[35.3,36.4],[35.55,39.9],[35.7,42.6],[35.8,44.9],[36.05,47.1],[36.2,45.3],[36.3,48.5],[36.4,44.2],[36.6,47.1],[36.85,48.8],[36.95,46.2],[37.05,44.2],[37.15,45.9],[37.25,40.7],[37.45,38.2],[37.55,39.6],[37.65,37.1],[37.85,43.5],[38.0,46.0],[38.15,44.8],[38.3,47.1],[38.55,48.5],[38.8,48.8],[39.0,49.2],[39.2,47.8],[39.3,48.6],[39.45,46.0],[39.75,42.1],[40.0,39.9],[40.15,40.8],[40.3,38.5],[40.55,36.0],[40.8,35.0],[41.1,33.5],[41.35,33.2],[41.7,31.4],[42.1,28.9],[42.5,26.6],[43.0,24.2],[43.5,22.3],[44.1,20.6],[44.6,19.5],[45.4,18.5],[46.1,17.7],[46.5,17.2]];
const D_C3: Pt[] = [[10.73,41.7],[10.97,40.3],[11.2,44.2],[11.4,51.3],[11.6,52.4],[11.8,48.1],[12.1,48.8],[12.35,54.9],[12.7,59.8],[12.95,60.6],[13.25,62.7],[13.7,65.9],[13.9,60.2],[14.15,62.0],[14.6,64.1],[14.8,63.0],[15.05,59.1],[15.35,56.0],[15.7,51.7],[16.1,47.5],[16.45,44.0],[16.8,41.3],[17.2,39.2],[17.5,38.6],[17.9,37.8],[18.3,35.9],[18.6,33.5],[19.2,30.7],[19.7,28.2],[20.3,25.8],[20.8,23.8],[21.35,22.9],[22.25,21.8],[23.2,21.0],[24.0,20.6],[24.8,20.0],[25.6,19.0],[26.6,17.4],[27.5,16.7],[28.45,15.8],[29.2,15.2],[30.0,15.3],[30.8,15.9],[31.7,17.9],[32.6,20.4],[33.1,22.9],[33.5,30.0],[33.9,35.3],[34.2,41.4],[34.6,46.0],[35.0,49.2],[35.35,50.6],[35.7,52.4],[36.1,54.2],[36.45,55.6],[36.75,56.1],[36.95,53.8],[37.2,52.4],[37.45,49.2],[37.65,50.6],[37.9,53.1],[38.25,54.2],[38.6,54.7],[39.0,54.9],[39.35,54.3],[39.7,52.7],[40.0,47.1],[40.3,45.6],[40.6,42.6],[40.9,39.4],[41.2,37.0],[41.55,34.9],[41.9,32.3],[42.3,29.6],[42.6,26.8],[43.0,24.5],[43.5,22.2],[44.1,20.2],[44.6,19.2],[45.4,18.4],[46.1,17.5],[46.5,17.0]];
const D_C4: Pt[] = [[10.73,41.0],[10.97,39.5],[11.2,43.5],[11.4,50.5],[11.6,51.5],[11.8,47.5],[12.1,48.3],[12.35,54.2],[12.7,59.0],[12.95,59.9],[13.25,62.0],[13.7,65.0],[13.9,59.6],[14.15,61.5],[14.6,63.6],[14.8,62.6],[15.05,58.8],[15.35,55.8],[15.7,51.6],[16.1,47.4],[16.45,44.0],[16.8,41.3],[17.2,39.3],[17.5,38.7],[17.9,37.9],[18.3,36.0],[18.6,33.6],[19.2,30.8],[19.7,28.3],[20.3,25.8],[20.8,23.8],[21.35,22.8],[22.25,21.6],[23.2,20.8],[24.0,20.5],[24.8,19.9],[25.6,18.8],[26.6,17.2],[27.5,16.5],[28.45,15.7],[29.2,15.1],[30.0,15.1],[30.8,15.8],[31.7,17.8],[32.6,20.4],[33.1,22.8],[33.5,28.5],[33.9,34.3],[34.2,40.0],[34.6,44.5],[35.0,48.0],[35.35,49.6],[35.7,51.6],[36.1,53.4],[36.45,54.6],[36.75,54.9],[36.95,52.8],[37.2,51.0],[37.5,48.5],[37.7,49.8],[37.95,52.0],[38.3,53.2],[38.6,53.8],[39.0,54.0],[39.35,53.5],[39.7,51.8],[40.0,46.6],[40.3,45.4],[40.6,42.6],[40.9,39.6],[41.2,37.3],[41.55,35.2],[41.9,32.6],[42.3,29.8],[42.6,27.0],[43.0,24.6],[43.5,22.2],[44.1,20.1],[44.6,19.1],[45.4,18.3],[46.1,17.4],[46.5,16.9]];
const D_C5: Pt[] = [[10.73,40.7],[11.0,38.2],[11.3,47.8],[11.6,49.2],[11.9,46.7],[12.25,53.1],[12.6,57.4],[12.95,58.8],[13.3,61.3],[13.7,64.1],[13.92,58.4],[14.25,61.3],[14.6,63.0],[14.95,59.8],[15.3,56.0],[15.65,51.5],[16.1,47.2],[16.45,43.8],[16.8,41.1],[17.2,39.1],[17.5,38.5],[17.9,37.7],[18.3,35.8],[18.6,33.4],[19.2,30.6],[19.7,28.1],[20.3,25.6],[20.8,23.6],[21.35,22.6],[22.25,21.4],[23.2,20.6],[24.0,20.3],[24.8,19.7],[25.6,18.6],[26.6,17.0],[27.5,16.3],[28.45,15.5],[29.2,14.9],[30.0,15.0],[30.8,15.7],[31.7,17.7],[32.6,20.3],[33.1,22.6],[33.5,26.5],[33.9,31.0],[34.3,37.1],[34.8,42.1],[35.2,44.2],[35.4,41.4],[35.7,44.9],[36.1,50.3],[36.45,53.0],[36.65,53.8],[36.9,51.5],[37.2,48.5],[37.55,46.3],[37.75,48.8],[38.0,51.2],[38.35,52.8],[38.7,53.6],[38.9,53.8],[39.3,53.0],[39.7,51.3],[40.0,46.2],[40.3,45.1],[40.6,42.4],[40.9,39.4],[41.2,37.1],[41.55,35.0],[41.9,32.4],[42.3,29.6],[42.6,26.8],[43.0,24.4],[43.5,22.0],[44.1,20.0],[44.6,19.0],[45.4,18.1],[46.1,17.2],[46.5,16.7]];
const D_C6: Pt[] = [[10.73,43.1],[10.97,41.0],[11.25,46.0],[11.45,52.4],[11.6,52.0],[11.8,47.8],[12.1,48.5],[12.45,54.2],[12.7,59.1],[12.95,58.1],[13.25,61.3],[13.6,64.1],[13.9,58.1],[14.15,60.6],[14.5,62.7],[14.8,61.3],[15.15,57.7],[15.5,53.5],[15.85,49.2],[16.25,44.2],[16.6,40.7],[16.95,38.2],[17.3,37.8],[17.7,38.2],[18.05,36.4],[18.6,32.8],[19.3,29.3],[19.8,27.0],[20.3,25.2],[20.8,23.5],[21.35,22.2],[22.25,20.8],[23.2,19.8],[24.0,19.3],[24.8,19.0],[25.6,18.0],[26.6,16.5],[27.5,15.6],[28.45,14.7],[29.2,14.1],[30.0,13.8],[30.8,14.4],[31.7,17.2],[32.6,19.6],[33.1,21.8],[33.9,33.5],[34.45,41.4],[34.9,46.3],[35.15,49.2],[35.35,44.9],[35.6,47.8],[35.95,51.3],[36.3,53.8],[36.55,54.5],[36.9,50.6],[37.2,47.8],[37.5,45.6],[37.75,48.8],[38.05,51.3],[38.4,52.6],[38.7,53.1],[39.0,53.0],[39.4,52.0],[39.7,50.0],[40.0,45.8],[40.3,44.4],[40.6,41.7],[40.9,38.5],[41.2,36.4],[41.55,34.6],[41.9,32.1],[42.3,29.3],[42.6,26.4],[43.0,24.0],[43.5,21.8],[44.1,19.7],[44.6,18.3],[45.4,17.2],[46.1,16.1],[46.5,15.6]];

// ---------- annotations (data coordinates: [hour, temperature]) ----------
type Ann = { label: string; text: Pt; from: Pt; to: Pt };
const A_ANN: Ann[] = [
  { label: 'REF', text: [9.39, 59.8], from: [13.8, 57.2], to: [11.59, 58.7] },
  { label: 'Amb', text: [14.53, 23.5], from: [11.95, 29.0], to: [13.96, 25.0] },
  { label: 'C3', text: [37.37, 54.4], from: [37.09, 48.2], to: [37.57, 52.4] },
  { label: 'C4', text: [40.53, 55.0], from: [39.52, 48.9], to: [40.05, 53.1] },
  { label: 'C5', text: [43.1, 49.2], from: [39.64, 48.3], to: [42.03, 48.9] },
  { label: 'C6', text: [43.54, 43.9], from: [39.33, 47.5], to: [42.54, 44.2] },
  { label: 'C2', text: [38.69, 36.0], from: [38.56, 41.7], to: [38.82, 37.5] },
];
const B_ANN: Ann[] = [
  { label: 'REF', text: [9.51, 64.7], from: [13.56, 62.5], to: [11.4, 64.2] },
  { label: 'Amb', text: [14.54, 23.6], from: [12.01, 29.1], to: [14.04, 25.25] },
  { label: 'C3', text: [42.28, 56.25], from: [38.94, 52.3], to: [41.15, 55.9] },
  { label: 'C4', text: [42.45, 52.4], from: [39.28, 51.4], to: [41.48, 51.6] },
  { label: 'C6', text: [42.5, 48.8], from: [36.64, 49.2], to: [41.48, 48.9] },
  { label: 'C5', text: [42.7, 45.6], from: [36.18, 46.6], to: [41.69, 45.6] },
  { label: 'C2', text: [38.81, 36.5], from: [38.43, 43.0], to: [38.67, 38.7] },
];
const C_ANN: Ann[] = [
  { label: 'REF', text: [9.54, 66.4], from: [13.68, 64.5], to: [11.42, 66.1] },
  { label: 'Amb', text: [14.56, 23.5], from: [12.0, 29.1], to: [14.03, 25.2] },
  { label: 'C3', text: [42.29, 57.4], from: [39.15, 53.4], to: [41.23, 56.7] },
  { label: 'C4', text: [42.54, 52.5], from: [39.42, 52.1], to: [41.62, 52.1] },
  { label: 'C6', text: [42.54, 48.8], from: [36.81, 49.5], to: [41.59, 49.0] },
  { label: 'C5', text: [42.77, 45.5], from: [36.07, 46.2], to: [41.54, 45.2] },
  { label: 'C2', text: [38.48, 32.9], from: [38.0, 38.9], to: [38.18, 34.8] },
];
const D_ANN: Ann[] = [
  { label: 'Amb', text: [14.54, 23.4], from: [12.0, 28.9], to: [14.0, 25.2] },
  { label: 'REF', text: [40.92, 62.2], from: [38.95, 56.3], to: [39.65, 60.0] },
  { label: 'C3', text: [42.19, 58.3], from: [39.14, 54.9], to: [41.23, 58.6] },
  { label: 'C4', text: [42.31, 54.2], from: [39.32, 54.1], to: [41.41, 54.2] },
  { label: 'C6', text: [43.67, 46.3], from: [35.33, 46.8], to: [42.58, 46.5] },
  { label: 'C5', text: [43.04, 42.5], from: [35.33, 42.8], to: [42.13, 42.8] },
  { label: 'C2', text: [37.91, 31.6], from: [37.6, 38.2], to: [37.87, 33.9] },
];

// ---------- layout (viewBox units, 1568 x 1218) ----------
type Box = { l: number; r: number; t: number; b: number };
type Leg = { x: number; len: number; y0: number; dy: number };
type PanelCfg = {
  letter: string; loc: string; box: Box; legend: Leg;
  series: Pt[][]; ann: Ann[]; gridColor: string; gridWidth: number;
};

const PANELS: PanelCfg[] = [
  { letter: 'a', loc: 'lower-surf', box: { l: 110.9, r: 739.2, t: 41.5, b: 508.6 },
    legend: { x: 319.5, len: 64.4, y0: 46.5, dy: 41.3 },
    series: [A_C1, A_C2, A_C3, A_C4, A_C5, A_C6], ann: A_ANN, gridColor: '#cfcfcf', gridWidth: 1.6 },
  { letter: 'b', loc: 'upper-surf', box: { l: 894.6, r: 1524.4, t: 46.9, b: 504.9 },
    legend: { x: 1100.4, len: 67, y0: 60.9, dy: 42.4 },
    series: [B_C1, B_C2, B_C3, B_C4, B_C5, B_C6], ann: B_ANN, gridColor: '#a9a9a9', gridWidth: 1.1 },
  { letter: 'c', loc: 'near-surf', box: { l: 112.5, r: 746.5, t: 652.6, b: 1120.2 },
    legend: { x: 311.1, len: 66.6, y0: 663, dy: 42.3 },
    series: [C_C1, C_C2, C_C3, C_C4, C_C5, C_C6], ann: C_ANN, gridColor: '#a9a9a9', gridWidth: 1.1 },
  { letter: 'd', loc: 'center', box: { l: 900.5, r: 1517, t: 661.6, b: 1111.5 },
    legend: { x: 1103.2, len: 62.6, y0: 675.2, dy: 40.5 },
    series: [D_C1, D_C2, D_C3, D_C4, D_C5, D_C6], ann: D_ANN, gridColor: '#a9a9a9', gridWidth: 1.1 },
];

const FONT = "'Liberation Serif', 'Times New Roman', Times, serif";

function Arrow({ x1, y1, x2, y2 }: { x1: number; y1: number; x2: number; y2: number }) {
  const ang = Math.atan2(y2 - y1, x2 - x1);
  const L = 11, W = 3.6;
  const c = Math.cos(ang), s = Math.sin(ang);
  const bx = x2 - L * c, by = y2 - L * s;
  const pts = `${x2},${y2} ${bx - W * s},${by + W * c} ${bx + W * s},${by - W * c}`;
  return (
    <g>
      <line x1={x1} y1={y1} x2={bx + 2 * c} y2={by + 2 * s} stroke="#000" strokeWidth={1.1} />
      <polygon points={pts} fill="#000" />
    </g>
  );
}

function Panel({ cfg }: { cfg: PanelCfg }) {
  const { box, legend } = cfg;
  const x = d3.scaleLinear().domain([6, 48]).range([box.l, box.r]);
  const y = d3.scaleLinear().domain([10, 70]).range([box.b, box.t]);
  const line = d3.line<Pt>().x(d => x(d[0])).y(d => y(d[1]));
  const ambPts: Pt[] = AMB_VALUES.map((v, i) => [AMB_START + i * AMB_STEP, v] as Pt);
  const clipId = `clip-${cfg.letter}`;
  const midX = (box.l + box.r) / 2;
  const midY = (box.t + box.b) / 2;

  const legendItems = [
    ...SERIES_KEYS.map((k, i) => ({ sub: `${cfg.loc}, ${k}`, color: SERIES_COLORS[i] })),
    { sub: 'amb', color: AMB_COLOR },
  ];

  return (
    <g>
      <defs>
        <clipPath id={clipId}>
          <rect x={box.l} y={box.t} width={box.r - box.l} height={box.b - box.t} />
        </clipPath>
      </defs>
      {/* grid */}
      {GRID_SOLID.map(h => (
        <line key={`gs${h}`} x1={x(h)} x2={x(h)} y1={box.t} y2={box.b} stroke={cfg.gridColor} strokeWidth={cfg.gridWidth} />
      ))}
      {GRID_DASHED.map(h => (
        <line key={`gd${h}`} x1={x(h)} x2={x(h)} y1={box.t} y2={box.b} stroke="#c8c8c8" strokeWidth={0.9} strokeDasharray="2.6,2.6" />
      ))}
      {/* series */}
      <g clipPath={`url(#${clipId})`} fill="none" strokeLinejoin="round" strokeLinecap="round">
        {cfg.series.map((s, i) => (
          <path key={i} d={line(s) || ''} stroke={SERIES_COLORS[i]} strokeWidth={i === 0 ? 2.2 : 2.6} />
        ))}
        <path d={line(ambPts) || ''} stroke={AMB_COLOR} strokeWidth={2.2} />
      </g>
      {/* frame */}
      <rect x={box.l} y={box.t} width={box.r - box.l} height={box.b - box.t} fill="none" stroke="#000" strokeWidth={2.2} />
      {/* y ticks both sides */}
      {[...Y_TICKS, ...Y_SMALL_TICKS].map(v => (
        <g key={`yt${v}`}>
          <line x1={box.l} x2={box.l + 8} y1={y(v)} y2={y(v)} stroke="#000" strokeWidth={2} />
          <line x1={box.r} x2={box.r - 8} y1={y(v)} y2={y(v)} stroke="#000" strokeWidth={2} />
        </g>
      ))}
      {/* x ticks */}
      {CLOCK_HOURS.filter(h => h > 6 && h < 48).map(h => (
        <g key={`xt${h}`}>
          <line x1={x(h)} x2={x(h)} y1={box.b} y2={box.b - 9} stroke="#000" strokeWidth={1.8} />
          <line x1={x(h)} x2={x(h)} y1={box.t} y2={box.t + (h % 12 === 0 ? 9 : 4)} stroke="#000" strokeWidth={1.8} />
        </g>
      ))}
      {/* y tick labels */}
      {Y_TICKS.map(v => (
        <text key={`yl${v}`} x={box.l - 10} y={y(v) - (v === 10 ? 2 : 0)} textAnchor="end" dominantBaseline="central" fontSize={29} fontFamily={FONT}>{v}</text>
      ))}
      {/* clock labels */}
      {CLOCK_HOURS.map((h, i) => (
        <text key={`cl${i}`} x={x(h)} y={box.b + (i === 0 ? 26 : 20)} textAnchor="middle" fontSize={24} fontFamily={FONT}>{CLOCK_LABELS[i]}</text>
      ))}
      {/* elapsed labels */}
      {ELAPSED_HOURS.map((h, i) => (
        <text key={`el${i}`} x={x(h)} y={box.b + 49} textAnchor="middle" fontSize={30} fontFamily={FONT}>{ELAPSED_LABELS[i]}</text>
      ))}
      {/* dates */}
      {DATE_HOURS.map((h, i) => (
        <text key={`dt${i}`} x={x(h)} y={box.t - 9} textAnchor="middle" fontSize={24} fontFamily={FONT}>{DATE_LABELS[i]}</text>
      ))}
      {/* axis titles */}
      <text x={midX} y={box.b + 87} textAnchor="middle" fontSize={31} fontFamily={FONT}>Time (hour)</text>
      <text x={box.l - 82} y={midY} textAnchor="middle" dominantBaseline="central" fontSize={31} fontFamily={FONT}
        transform={`rotate(-90 ${box.l - 82} ${midY})`}>Temperture (ºC)</text>
      {/* panel letter */}
      <text x={box.l - 76} y={box.t + 28} textAnchor="middle" fontSize={38} fontStyle="italic" fontFamily={FONT}>{cfg.letter}</text>
      {/* legend */}
      {legendItems.map((it, i) => {
        const ry = legend.y0 + i * legend.dy;
        const tx = legend.x + legend.len + 8.5;
        return (
          <g key={`lg${i}`}>
            <line x1={legend.x} x2={legend.x + legend.len} y1={ry} y2={ry} stroke={it.color} strokeWidth={2.4} />
            <text x={tx} y={ry + 9.3} fontSize={27} fontStyle="italic" fontFamily={FONT}>T</text>
            <text x={tx + 15} y={ry + 17.7} fontSize={18.5} fontFamily={FONT}>{it.sub}</text>
          </g>
        );
      })}
      {/* annotations */}
      {cfg.ann.map((a, i) => (
        <g key={`an${i}`}>
          <Arrow x1={x(a.from[0])} y1={y(a.from[1])} x2={x(a.to[0])} y2={y(a.to[1])} />
          <text x={x(a.text[0])} y={y(a.text[1])} textAnchor="middle" dominantBaseline="central" fontSize={23.5} fontFamily={FONT}>{a.label}</text>
        </g>
      ))}
    </g>
  );
}

export default function App() {
  return (
    <svg
      width={3753}
      height={2915}
      viewBox="0 0 1568 1218"
      style={{ position: 'absolute', left: 0, top: 0, background: '#ffffff' }}
      xmlns="http://www.w3.org/2000/svg"
    >
      <rect x={0} y={0} width={1568} height={1218} fill="#ffffff" />
      {PANELS.map(p => (
        <Panel key={p.letter} cfg={p} />
      ))}
    </svg>
  );
}
